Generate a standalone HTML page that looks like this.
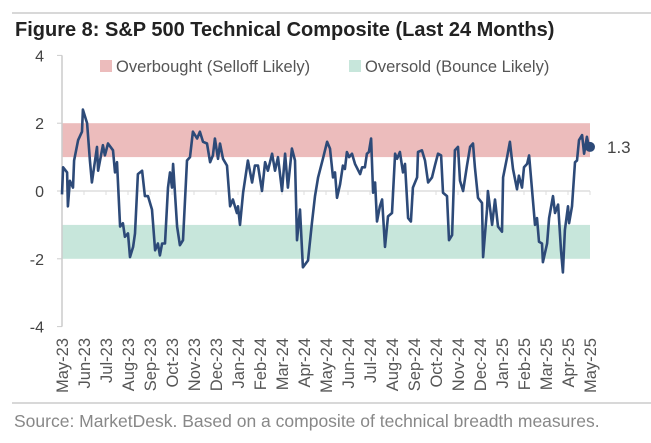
<!DOCTYPE html>
<html><head><meta charset="utf-8"><style>
body{margin:0;background:#fff;font-family:"Liberation Sans",sans-serif;}
</style></head><body>
<svg width="651" height="438" xmlns="http://www.w3.org/2000/svg">
<line x1="12" y1="13" x2="651" y2="13" stroke="#ccc" stroke-width="1.5"/>
<text x="15" y="36" font-size="20" font-weight="bold" fill="#222">Figure 8: S&amp;P 500 Technical Composite (Last 24 Months)</text>
<g id="bands"></g>
<g id="axes"></g>
<g id="line"></g>
<g>
<rect x="100" y="60" width="12" height="12" fill="#ecbcbc"/>
<text x="116" y="72" font-size="16.5" fill="#555">Overbought (Selloff Likely)</text>
<rect x="349" y="60" width="12" height="12" fill="#c7e6db"/>
<text x="365" y="72" font-size="16.5" fill="#555">Oversold (Bounce Likely)</text>
</g>
<line x1="12" y1="403" x2="651" y2="403" stroke="#ccc" stroke-width="1.5"/>
<text x="14" y="427" font-size="17.5" fill="#888">Source: MarketDesk. Based on a composite of technical breadth measures.</text>
</svg>
<script>
const months=["May-23","Jun-23","Jul-23","Aug-23","Sep-23","Oct-23","Nov-23","Dec-23","Jan-24","Feb-24","Mar-24","Apr-24","May-24","Jun-24","Jul-24","Aug-24","Sep-24","Oct-24","Nov-24","Dec-24","Jan-25","Feb-25","Mar-25","Apr-25","May-25"];
const yTicks=[4,2,0,-2,-4];
const bandOver=[1,2];
const bandUnder=[-2,-1];
const t=[0,.05,.23,.27,.36,.5,.55,.73,.91,.95,1.14,1.27,1.36,1.59,1.64,1.86,1.95,2.09,2.32,2.41,2.5,2.64,2.77,2.86,3.0,3.09,3.23,3.32,3.45,3.64,3.77,3.91,4.09,4.23,4.36,4.45,4.55,4.68,4.82,4.91,5.0,5.05,5.23,5.36,5.5,5.68,5.82,5.95,6.14,6.27,6.41,6.59,6.73,6.86,6.95,7.09,7.18,7.32,7.5,7.64,7.77,7.95,8.0,8.09,8.23,8.45,8.64,8.77,8.91,9.09,9.23,9.36,9.55,9.68,9.82,10.0,10.14,10.27,10.45,10.59,10.68,10.82,10.95,11.18,11.36,11.5,11.64,11.86,12.05,12.18,12.32,12.41,12.5,12.64,12.77,12.86,12.95,13.05,13.18,13.32,13.55,13.64,13.77,13.86,13.95,14.05,14.14,14.23,14.32,14.45,14.55,14.68,14.82,15.0,15.14,15.23,15.36,15.5,15.59,15.73,15.86,15.95,16.14,16.18,16.36,16.5,16.64,16.82,16.95,17.09,17.23,17.32,17.5,17.59,17.73,17.86,18.0,18.09,18.23,18.41,18.55,18.68,18.77,18.91,19.09,19.14,19.32,19.36,19.55,19.68,19.82,20.0,20.05,20.23,20.36,20.5,20.68,20.77,20.91,21.0,21.14,21.23,21.41,21.5,21.59,21.68,21.82,21.86,22.05,22.14,22.32,22.41,22.55,22.68,22.77,22.86,23.0,23.05,23.18,23.32,23.41,23.5,23.64,23.73,23.86,23.95,24];
const v=[-0.1,0.7,0.55,-0.45,0.3,0.1,0.9,1.5,1.75,2.4,2.0,0.9,0.25,1.3,0.6,1.35,1.05,1.4,1.2,0.55,0.85,-1.05,-0.95,-1.35,-1.25,-1.95,-1.65,-1.25,0.5,0.6,-0.15,-0.15,-0.55,-1.75,-1.55,-1.9,-1.55,-1.55,0.1,0.55,0.1,0.8,-1.05,-1.6,-1.45,0.9,1.0,1.75,1.55,1.75,1.45,1.4,0.85,1.05,1.55,0.95,1.4,0.95,0.75,-0.45,-0.25,-0.65,-0.45,-1.0,-0.05,0.9,0.25,0.75,0.75,0.0,0.85,0.6,1.1,0.6,1.0,0.0,1.1,0.1,1.25,0.9,-1.45,-0.55,-2.25,-2.05,-0.95,-0.15,0.4,0.95,1.45,1.25,0.4,0.55,-0.2,0.2,0.75,0.65,1.15,1.0,1.1,0.8,0.5,0.7,0.7,1.1,1.15,1.55,-0.05,0.25,-0.9,-0.45,-0.25,-1.65,-0.75,-0.65,1.1,0.95,1.15,0.55,0.8,-0.8,-0.9,0.1,0.4,1.15,1.2,0.9,0.25,0.4,0.75,1.1,1.05,-0.05,-0.15,-1.45,-1.3,1.2,1.3,0.3,0.0,0.75,1.3,1.4,0.7,-0.2,-0.35,-1.95,-0.55,0.0,-1.0,-0.25,-1.05,-1.2,0.4,1.0,1.45,0.65,0.05,0.45,0.1,0.7,0.8,1.05,-0.3,-1.0,-0.8,-1.5,-1.55,-2.1,-1.55,-0.8,-0.15,-0.65,-0.4,-1.75,-2.4,-1.15,-0.45,-0.95,-0.45,0.85,0.9,1.5,1.65,1.1,1.6,1.3,1.3];
const lastLabel="1.3";
const NS="http://www.w3.org/2000/svg";
const X0=62,X1=590,Y0=191,PU=33.9;
function xs(m){return X0+(X1-X0)*m/(months.length-1);}
function ys(val){return Y0-val*PU;}
function mk(tag,attrs,parent){const e=document.createElementNS(NS,tag);for(const k in attrs)e.setAttribute(k,attrs[k]);parent.appendChild(e);return e;}
const bands=document.getElementById('bands'),axes=document.getElementById('axes'),lg=document.getElementById('line');
let r=mk('rect',{x:X0,y:ys(bandOver[1]),width:X1-X0,height:ys(bandOver[0])-ys(bandOver[1]),fill:'#ecbcbc'},bands);


r=mk('rect',{x:X0,y:ys(bandUnder[1]),width:X1-X0,height:ys(bandUnder[0])-ys(bandUnder[1]),fill:'#c7e6db'},bands);


let a=mk('line',{x1:X0,y1:ys(4),x2:X0,y2:ys(-4),stroke:'#ccc','stroke-width':1.5},axes);


a=mk('line',{x1:X0,y1:Y0,x2:X1,y2:Y0,stroke:'#ddd','stroke-width':1.5},axes);


yTicks.forEach(tk=>{
  const tl=mk('text',{x:44,y:ys(tk)+6,'font-size':16,fill:'#444','text-anchor':'end'},axes);tl.textContent=tk;
  
  
  mk('line',{x1:X0-5,y1:ys(tk),x2:X0,y2:ys(tk),stroke:'#ccc'},axes);
});
months.forEach((m,i)=>{
  const x=xs(i);
  mk('line',{x1:x,y1:Y0,x2:x,y2:Y0+4,stroke:'#ddd'},axes);
  const tl=mk('text',{x:0,y:0,'font-size':16.5,fill:'#555','text-anchor':'end',transform:`translate(${x+6},338) rotate(-90)`},axes);
  tl.textContent=m;
  
  
});
const d=t.map((tt,i)=>(i?'L':'M')+xs(tt).toFixed(1)+','+ys(v[i]).toFixed(1)).join(' ');
const p=mk('path',{d:d,fill:'none',stroke:'#2d4a78','stroke-width':2.6,'stroke-linejoin':'round'},lg);


const lt=t[t.length-1],lv=v[v.length-1];
const c=mk('circle',{cx:xs(lt),cy:ys(lv),r:5,fill:'#2d4a78'},lg);


const vl=mk('text',{x:xs(lt)+17,y:ys(lv)+6,'font-size':17,fill:'#444'},lg);
vl.textContent=lastLabel;


</script>
</body></html>
